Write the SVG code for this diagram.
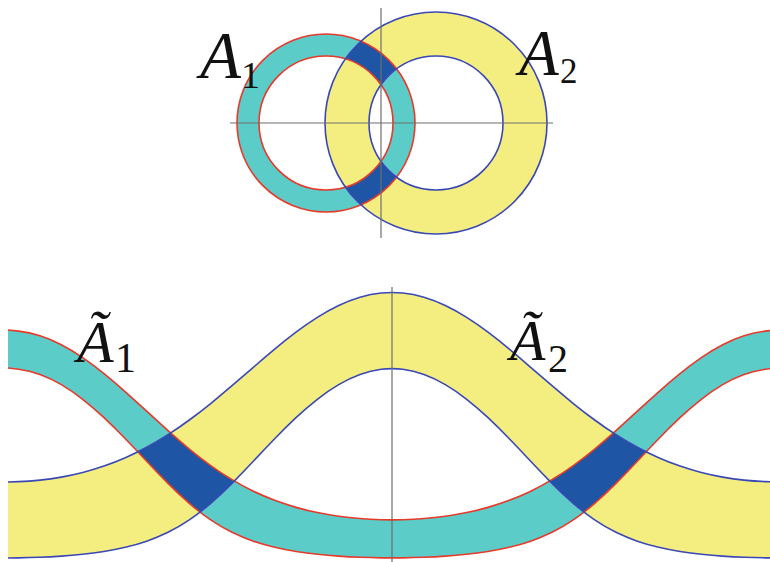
<svg xmlns="http://www.w3.org/2000/svg" xmlns:xlink="http://www.w3.org/1999/xlink" width="770" height="562" viewBox="0 0 770 562">
<style>
.cy{fill:#5CCCC8}
.ye{fill:#F4EE80}
.dk{fill:#1E55A5}
.rd{fill:none;stroke:#E63A2C;stroke-width:1.6}
.bl{fill:none;stroke:#3A48B6;stroke-width:1.6}
.ax{stroke:#6E6E6E;stroke-width:1.2}
.lbl{font-family:"Liberation Serif","DejaVu Serif",serif;fill:#111}
.it{font-style:italic}
.sb{font-style:normal}
</style>
<defs>
<path id="ao2" d="M-20,481.97 L8,481.97 L18.67,481.61 Q29.33,481.24 40,480.13 Q50.67,479.02 61.33,477.12 Q72,475.22 82.67,472.48 Q93.33,469.73 104,466.06 Q114.67,462.39 125.33,457.71 Q136,453.02 146.67,447.27 Q157.33,441.52 168,434.69 Q178.67,427.85 189.33,420.01 Q200,412.16 210.67,403.51 Q221.33,394.85 232,385.69 Q242.67,376.53 253.33,367.28 Q264,358.02 274.67,349.14 Q285.33,340.26 296,332.22 Q306.67,324.18 317.33,317.43 Q328,310.68 338.67,305.58 Q349.33,300.48 360,297.31 Q370.67,294.13 381.33,293.05 Q392,291.97 402.67,293.05 Q413.33,294.13 424,297.31 Q434.67,300.48 445.33,305.58 Q456,310.68 466.67,317.43 Q477.33,324.18 488,332.22 Q498.67,340.26 509.33,349.14 Q520,358.02 530.67,367.28 Q541.33,376.53 552,385.69 Q562.67,394.85 573.33,403.51 Q584,412.16 594.67,420.01 Q605.33,427.85 616,434.69 Q626.67,441.52 637.33,447.27 Q648,453.02 658.67,457.71 Q669.33,462.39 680,466.06 Q690.67,469.73 701.33,472.48 Q712,475.22 722.67,477.12 Q733.33,479.02 744,480.13 Q754.67,481.24 765.33,481.61 L776,481.97 L800,481.97 L800,620 L-20,620 Z"/>
<path id="ai2" d="M-20,557.97 L8,557.97 L18.67,557.84 Q29.33,557.71 40,557.31 Q50.67,556.90 61.33,556.17 Q72,555.44 82.67,554.31 Q93.33,553.17 104,551.48 Q114.67,549.78 125.33,547.30 Q136,544.81 146.67,541.18 Q157.33,537.55 168,532.32 Q178.67,527.08 189.33,519.85 Q200,512.61 210.67,503.35 Q221.33,494.09 232,483.33 Q242.67,472.56 253.33,461.19 Q264,449.81 274.67,438.73 Q285.33,427.65 296,417.64 Q306.67,407.62 317.33,399.26 Q328,390.90 338.67,384.63 Q349.33,378.35 360,374.48 Q370.67,370.60 381.33,369.29 Q392,367.97 402.67,369.29 Q413.33,370.60 424,374.48 Q434.67,378.35 445.33,384.63 Q456,390.90 466.67,399.26 Q477.33,407.62 488,417.64 Q498.67,427.65 509.33,438.73 Q520,449.81 530.67,461.19 Q541.33,472.56 552,483.33 Q562.67,494.09 573.33,503.35 Q584,512.61 594.67,519.85 Q605.33,527.08 616,532.32 Q626.67,537.55 637.33,541.18 Q648,544.81 658.67,547.30 Q669.33,549.78 680,551.48 Q690.67,553.17 701.33,554.31 Q712,555.44 722.67,556.17 Q733.33,556.90 744,557.31 Q754.67,557.71 765.33,557.84 L776,557.97 L800,557.97 L800,620 L-20,620 Z"/>
<path id="ao1" d="M-20,329.97 L8,329.97 L18.67,331.14 Q29.33,332.30 40,335.74 Q50.67,339.17 61.33,344.70 Q72,350.22 82.67,357.54 Q93.33,364.85 104,373.54 Q114.67,382.22 125.33,391.78 Q136,401.34 146.67,411.20 Q157.33,421.06 168,430.64 Q178.67,440.22 189.33,449.03 Q200,457.84 210.67,465.53 Q221.33,473.22 232,479.63 Q242.67,486.04 253.33,491.19 Q264,496.34 274.67,500.35 Q285.33,504.35 296,507.37 Q306.67,510.39 317.33,512.58 Q328,514.77 338.67,516.25 Q349.33,517.72 360,518.57 Q370.67,519.42 381.33,519.70 Q392,519.97 402.67,519.70 Q413.33,519.42 424,518.57 Q434.67,517.72 445.33,516.25 Q456,514.77 466.67,512.58 Q477.33,510.39 488,507.37 Q498.67,504.35 509.33,500.35 Q520,496.34 530.67,491.19 Q541.33,486.04 552,479.63 Q562.67,473.22 573.33,465.53 Q584,457.84 594.67,449.03 Q605.33,440.22 616,430.64 Q626.67,421.06 637.33,411.20 Q648,401.34 658.67,391.78 Q669.33,382.22 680,373.54 Q690.67,364.85 701.33,357.54 Q712,350.22 722.67,344.70 Q733.33,339.17 744,335.74 Q754.67,332.30 765.33,331.14 L776,329.97 L800,329.97 L800,620 L-20,620 Z"/>
<path id="ai1" d="M-20,367.97 L8,367.97 L18.67,369.29 Q29.33,370.60 40,374.48 Q50.67,378.35 61.33,384.63 Q72,390.90 82.67,399.26 Q93.33,407.62 104,417.64 Q114.67,427.65 125.33,438.73 Q136,449.81 146.67,461.19 Q157.33,472.56 168,483.33 Q178.67,494.09 189.33,503.35 Q200,512.61 210.67,519.85 Q221.33,527.08 232,532.32 Q242.67,537.55 253.33,541.18 Q264,544.81 274.67,547.30 Q285.33,549.78 296,551.48 Q306.67,553.17 317.33,554.31 Q328,555.44 338.67,556.17 Q349.33,556.90 360,557.31 Q370.67,557.71 381.33,557.84 Q392,557.97 402.67,557.84 Q413.33,557.71 424,557.31 Q434.67,556.90 445.33,556.17 Q456,555.44 466.67,554.31 Q477.33,553.17 488,551.48 Q498.67,549.78 509.33,547.30 Q520,544.81 530.67,541.18 Q541.33,537.55 552,532.32 Q562.67,527.08 573.33,519.85 Q584,512.61 594.67,503.35 Q605.33,494.09 616,483.33 Q626.67,472.56 637.33,461.19 Q648,449.81 658.67,438.73 Q669.33,427.65 680,417.64 Q690.67,407.62 701.33,399.26 Q712,390.90 722.67,384.63 Q733.33,378.35 744,374.48 Q754.67,370.60 765.33,369.29 L776,367.97 L800,367.97 L800,620 L-20,620 Z"/>
<mask id="mY" maskUnits="userSpaceOnUse" x="0" y="0" width="770" height="562">
<use xlink:href="#ao2" fill="#fff"/><use xlink:href="#ai2" fill="#000"/>
</mask>
<mask id="mC" maskUnits="userSpaceOnUse" x="0" y="0" width="770" height="562">
<use xlink:href="#ao1" fill="#fff"/><use xlink:href="#ai1" fill="#000"/>
</mask>
<clipPath id="clipB"><rect x="8" y="250" width="762" height="312"/></clipPath>
<path id="ann1" d="M237,123 a89,89 0 1,0 178,0 a89,89 0 1,0 -178,0 Z M259,123 a67,67 0 1,0 134,0 a67,67 0 1,0 -134,0 Z"/>
<path id="ann2" d="M325,123 a111,111 0 1,0 222,0 a111,111 0 1,0 -222,0 Z M369,123 a67,67 0 1,0 134,0 a67,67 0 1,0 -134,0 Z"/>
<clipPath id="clipA1"><use xlink:href="#ann1" clip-rule="evenodd"/></clipPath>
</defs>

<g id="top-annuli">
<use xlink:href="#ann1" class="cy" fill-rule="evenodd"/>
<use xlink:href="#ann2" class="ye" fill-rule="evenodd"/>
<use xlink:href="#ann2" class="dk" fill-rule="evenodd" clip-path="url(#clipA1)"/>
<circle cx="326" cy="123" r="89" class="rd"/>
<circle cx="326" cy="123" r="67" class="rd"/>
<circle cx="436" cy="123" r="111" class="bl"/>
<circle cx="436" cy="123" r="67" class="bl"/>
<line x1="230" y1="123" x2="553" y2="123" class="ax"/>
<line x1="381" y1="8" x2="381" y2="238" class="ax"/>
</g>

<g id="bottom-bands" clip-path="url(#clipB)">
<rect x="0" y="250" width="770" height="312" class="ye" mask="url(#mY)"/>
<rect x="0" y="250" width="770" height="312" class="cy" mask="url(#mC)"/>
<g mask="url(#mY)"><rect x="0" y="250" width="770" height="312" class="dk" mask="url(#mC)"/></g>
<use xlink:href="#ao1" class="rd"/>
<use xlink:href="#ai1" class="rd"/>
<use xlink:href="#ao2" class="bl"/>
<use xlink:href="#ai2" class="bl"/>
<line x1="392" y1="287" x2="392" y2="562" class="ax"/>
</g>

<g id="labels">
<text class="lbl" x="200" y="78" font-size="67"><tspan class="it">A</tspan><tspan class="sb" x="241" y="88" font-size="38">1</tspan></text>
<text class="lbl" x="519" y="75" font-size="65"><tspan class="it">A</tspan><tspan class="sb" x="560" y="83" font-size="35">2</tspan></text>
<text class="lbl" x="77" y="362" font-size="60"><tspan class="it">Ã</tspan><tspan class="sb" x="115" y="372" font-size="42">1</tspan></text>
<text class="lbl" x="510" y="360" font-size="58"><tspan class="it">Ã</tspan><tspan class="sb" x="548" y="372" font-size="40">2</tspan></text>
</g>
</svg>
